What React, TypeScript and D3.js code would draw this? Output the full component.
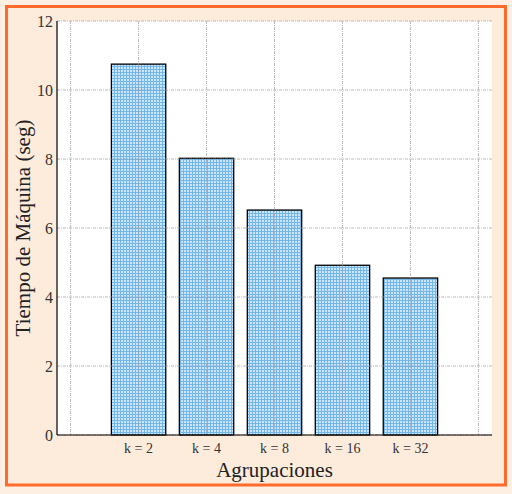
import { useEffect, useRef } from 'react';
import * as d3 from 'd3';

const categories = ['k = 2', 'k = 4', 'k = 8', 'k = 16', 'k = 32'];
const times = [10.75, 8.02, 6.52, 4.92, 4.55];
const yTicks = [0, 2, 4, 6, 8, 10, 12];
const xGrid = [0, 1, 2, 3, 4, 5, 6];

const W = 512;
const H = 494;
const margin = { left: 57, right: 20, top: 21, bottom: 59 };

export default function App() {
  const ref = useRef<SVGSVGElement | null>(null);

  useEffect(() => {
    if (!ref.current) return;
    const svg = d3.select(ref.current);
    svg.selectAll('*').remove();

    const x = d3.scaleLinear().domain([-0.2, 6.2]).range([margin.left, W - margin.right]);
    const y = d3.scaleLinear().domain([0, 12]).range([H - margin.bottom, margin.top]);

    // fondo de la figura
    svg.append('rect').attr('width', W).attr('height', H).attr('fill', '#fdefe2');
    svg
      .append('rect')
      .attr('x', 6.5)
      .attr('y', 6.5)
      .attr('width', W - 13)
      .attr('height', H - 9 - 6.5)
      .attr('fill', '#fdebdc')
      .attr('stroke', '#ff6b2d')
      .attr('stroke-width', 3);

    // patron cuadriculado para las barras
    const defs = svg.append('defs');
    const pat = defs
      .append('pattern')
      .attr('id', 'grid-hatch')
      .attr('patternUnits', 'userSpaceOnUse')
      .attr('width', 3)
      .attr('height', 3);
    pat.append('rect').attr('width', 3).attr('height', 3).attr('fill', '#cce5f8');
    pat.append('rect').attr('x', 0).attr('y', 0).attr('width', 1).attr('height', 3).attr('fill', '#74b8ea');
    pat.append('rect').attr('x', 0).attr('y', 0).attr('width', 3).attr('height', 1).attr('fill', '#74b8ea');

    // area del grafico
    svg
      .append('rect')
      .attr('x', margin.left)
      .attr('y', margin.top)
      .attr('width', W - margin.left - margin.right)
      .attr('height', H - margin.top - margin.bottom)
      .attr('fill', '#ffffff');

    svg
      .append('g')
      .selectAll('rect')
      .data(times)
      .enter()
      .append('rect')
      .attr('x', (_d, i) => x(i + 1 - 0.4))
      .attr('y', (d) => y(d))
      .attr('width', x(0.8) - x(0))
      .attr('height', (d) => y(0) - y(d))
      .attr('fill', 'url(#grid-hatch)')
      .attr('stroke', '#000')
      .attr('stroke-width', 1.3);

    // rejilla
    const grid = svg.append('g').attr('stroke', '#9a9a9a').attr('stroke-width', 0.9).attr('stroke-dasharray', '3,1,1,1').attr('opacity', 0.75);
    grid
      .selectAll('line.h')
      .data(yTicks)
      .enter()
      .append('line')
      .attr('x1', margin.left)
      .attr('x2', W - margin.right)
      .attr('y1', (d) => y(d))
      .attr('y2', (d) => y(d));
    grid
      .selectAll('line.v')
      .data(xGrid)
      .enter()
      .append('line')
      .attr('x1', (d) => x(d))
      .attr('x2', (d) => x(d))
      .attr('y1', margin.top)
      .attr('y2', H - margin.bottom);

    // ejes
    svg
      .append('line')
      .attr('x1', margin.left)
      .attr('x2', margin.left)
      .attr('y1', margin.top)
      .attr('y2', H - margin.bottom)
      .attr('stroke', '#000')
      .attr('stroke-width', 1.2);
    svg
      .append('line')
      .attr('x1', margin.left)
      .attr('x2', W - margin.right)
      .attr('y1', H - margin.bottom)
      .attr('y2', H - margin.bottom)
      .attr('stroke', '#000')
      .attr('stroke-width', 1.2);

    const font = '"Liberation Serif", "Times New Roman", serif';

    svg
      .append('g')
      .selectAll('text')
      .data(yTicks)
      .enter()
      .append('text')
      .attr('x', margin.left - 4)
      .attr('y', (d) => y(d))
      .attr('dy', '0.35em')
      .attr('text-anchor', 'end')
      .attr('font-family', font)
      .attr('font-size', 16)
      .attr('fill', '#333')
      .text((d) => d);

    svg
      .append('g')
      .selectAll('text')
      .data(categories)
      .enter()
      .append('text')
      .attr('x', (_d, i) => x(i + 1))
      .attr('y', H - margin.bottom + 18)
      .attr('text-anchor', 'middle')
      .attr('font-family', font)
      .attr('font-size', 14)
      .attr('fill', '#333')
      .text((d) => d);

    svg
      .append('text')
      .attr('x', (margin.left + W - margin.right) / 2)
      .attr('y', H - 17)
      .attr('text-anchor', 'middle')
      .attr('font-family', font)
      .attr('font-size', 21)
      .attr('fill', '#222')
      .text('Agrupaciones');

    svg
      .append('text')
      .attr('transform', `translate(30,${(margin.top + H - margin.bottom) / 2}) rotate(-90)`)
      .attr('text-anchor', 'middle')
      .attr('font-family', font)
      .attr('font-size', 21)
      .attr('fill', '#222')
      .text('Tiempo de Máquina (seg)');
  }, []);

  return <svg ref={ref} width={W} height={H} style={{ position: 'absolute', left: 0, top: 0 }} />;
}
